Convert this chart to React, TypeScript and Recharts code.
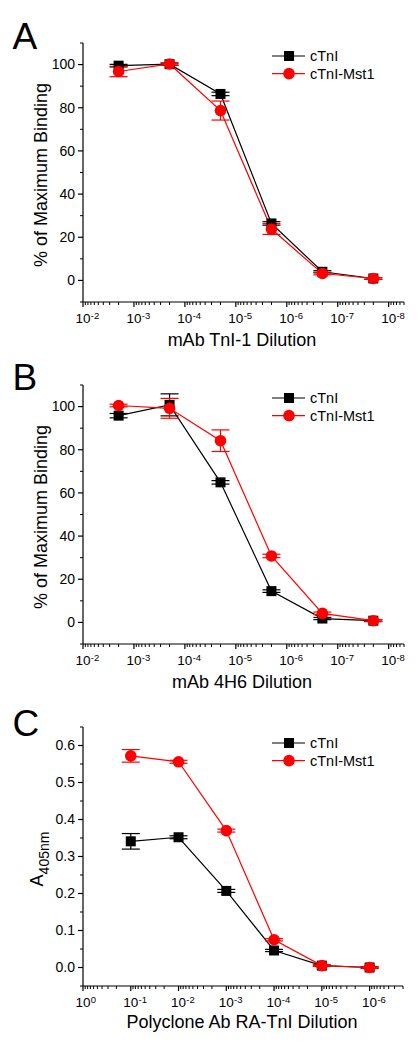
import React from "react";
import { LineChart, Line, XAxis, YAxis, ErrorBar, Legend } from "recharts";

const FONT = '"Liberation Sans", Arial, Helvetica, sans-serif';
const RED = "#ff0000";
const BLACK = "#000000";

// dilutions (x): 1:500 ... for the two mAbs, 1:10 ... for the polyclone
const mAbDilutions = [2e-3, 2e-4, 2e-5, 2e-6, 2e-7, 2e-8];
const polyDilutions = [1e-1, 1e-2, 1e-3, 1e-4, 1e-5, 1e-6];

// A - mAb TnI-1
const tni1Ctni = [99.5, 100.2, 86.4, 26.4, 4.0, 0.9];
const tni1CtniErr = [0.6, 0.5, 0.8, 0.8, 0.5, 0.4];
const tni1Mst = [96.8, 100.3, 78.7, 23.8, 3.2, 0.9];
const tni1MstErr = [2.4, 0.5, 4.4, 2.5, 0.6, 0.4];

// B - mAb 4H6
const h6Ctni = [95.8, 100.8, 64.9, 14.5, 1.8, 0.8];
const h6CtniErr = [1.0, 5.1, 0.8, 0.6, 0.5, 0.4];
const h6Mst = [100.5, 99.2, 84.2, 30.8, 4.2, 0.8];
const h6MstErr = [0.6, 4.6, 5.0, 0.8, 0.6, 0.4];

// C - polyclone Ab RA-TnI (A405nm)
const polyCtni = [0.341, 0.352, 0.207, 0.046, 0.005, 0.0];
const polyCtniErr = [0.021, 0.004, 0.004, 0.003, 0.002, 0.002];
const polyMst = [0.572, 0.556, 0.37, 0.075, 0.005, 0.0];
const polyMstErr = [0.017, 0.004, 0.004, 0.003, 0.002, 0.002];

const pctMajor = [0, 20, 40, 60, 80, 100];
const pctMinor = [-10, 10, 30, 50, 70, 90, 110];
const absMajor = [0, 0.1, 0.2, 0.3, 0.4, 0.5, 0.6];
const absMinor = [-0.05, 0.05, 0.15, 0.25, 0.35, 0.45, 0.55, 0.65];

const buildRows = (x: number[], a: number[], aErr: number[], b: number[], bErr: number[]) =>
  x.map((d, i) => ({ d, ctni: a[i], ctniErr: aErr[i], mst: b[i], mstErr: bErr[i] }));

// decade + 2..9 minor ticks of a log axis, kept inside [lo, 10^hiExp]
const logTicks = (hiExp: number, loExp: number, lo: number) => {
  const t: number[] = [];
  for (let k = hiExp; k >= loExp; k--) {
    for (let n = 1; n <= 9; n++) {
      const v = n * Math.pow(10, k);
      if (v >= lo * (1 - 1e-9) && v <= Math.pow(10, hiExp) * (1 + 1e-9)) t.push(v);
    }
  }
  return t;
};

const XTick = (props: any) => {
  const { x, y, payload } = props;
  const e = Math.log10(payload.value);
  const major = Math.abs(e - Math.round(e)) < 1e-6;
  if (!major) return <line x1={x} x2={x} y1={y} y2={y + 3} stroke={BLACK} strokeWidth={1} />;
  return (
    <g>
      <line x1={x} x2={x} y1={y} y2={y + 5} stroke={BLACK} strokeWidth={1.2} />
      <text x={x} y={y + 21} textAnchor="middle" fontSize={13.5} fontFamily={FONT} fill={BLACK}>
        10
      </text>
      <text x={x + 7.8} y={y + 16.5} fontSize={9.5} fontFamily={FONT} fill={BLACK}>
        {String(Math.round(e))}
      </text>
    </g>
  );
};

const makeYTick = (major: number[], fmt: (v: number) => string) => (props: any) => {
  const { x, y, payload } = props;
  const v = payload.value;
  if (!major.includes(v)) return <line x1={x - 3} x2={x} y1={y} y2={y} stroke={BLACK} strokeWidth={1} />;
  return (
    <g>
      <line x1={x - 5} x2={x} y1={y} y2={y} stroke={BLACK} strokeWidth={1.2} />
      <text x={x - 8} y={y + 4.9} textAnchor="end" fontSize={14} fontFamily={FONT} fill={BLACK}>
        {fmt(v)}
      </text>
    </g>
  );
};

const squareDot = (p: any) => (
  <rect key={`sq-${p.index}`} x={p.cx - 5} y={p.cy - 5} width={10} height={10} fill={BLACK} />
);
const circleDot = (p: any) => <circle key={`ci-${p.index}`} cx={p.cx} cy={p.cy} r={5.8} fill={RED} />;

const LegendBox = ({ payload }: any) => (
  <svg width={150} height={40}>
    {(payload || []).map((p: any, i: number) => {
      const cy = 9 + i * 17.6;
      return (
        <g key={p.value}>
          <line x1={4} x2={37} y1={cy} y2={cy} stroke={p.color} strokeWidth={1.2} />
          {i === 0 ? (
            <rect x={16} y={cy - 5} width={10} height={10} fill={p.color} />
          ) : (
            <circle cx={21} cy={cy} r={5.8} fill={p.color} />
          )}
          <text x={42} y={cy + 5.2} fontSize={14.5} fontFamily={FONT} fill={BLACK}>
            {p.value}
          </text>
        </g>
      );
    })}
  </svg>
);

interface PanelProps {
  top: number;
  height: number;
  rows: any[];
  letter: string;
  letterY: number;
  xTitle: string;
  xTitleGap: number;
  yTitle: React.ReactNode;
  yTitleX: number;
  xDomain: [number, number];
  xTicks: number[];
  yDomain: [number, number];
  yMajor: number[];
  yMinor: number[];
  yFmt: (v: number) => string;
  legendTop: number;
  right: number;
}

function Panel(p: PanelProps) {
  const plotBottom = 301;
  return (
    <div style={{ position: "absolute", left: 0, top: p.top }}>
      <LineChart
        width={420}
        height={p.height}
        data={p.rows}
        margin={{ top: 42, right: p.right, bottom: p.height - plotBottom - 30, left: 43 }}
      >
        <XAxis
          dataKey="d"
          type="number"
          scale="log"
          domain={p.xDomain}
          reversed
          allowDataOverflow
          ticks={p.xTicks}
          interval={0}
          height={30}
          tickSize={0}
          tickMargin={0}
          tickLine={false}
          tick={XTick}
          axisLine={{ stroke: BLACK, strokeWidth: 1.2 }}
        />
        <YAxis
          type="number"
          domain={p.yDomain}
          allowDataOverflow
          ticks={[...p.yMinor, ...p.yMajor].sort((a, b) => a - b)}
          interval={0}
          width={40}
          tickSize={0}
          tickMargin={0}
          tickLine={false}
          tick={makeYTick(p.yMajor, p.yFmt)}
          axisLine={{ stroke: BLACK, strokeWidth: 1.2 }}
        />
        <Legend
          layout="vertical"
          align="center"
          verticalAlign="middle"
          content={LegendBox}
          wrapperStyle={{ left: 268, top: p.legendTop, width: 150, height: 40 }}
        />
        <Line
          name="cTnI"
          dataKey="ctni"
          type="linear"
          stroke={BLACK}
          strokeWidth={1.2}
          dot={squareDot}
          activeDot={false}
          isAnimationActive={false}
        >
          <ErrorBar dataKey="ctniErr" direction="y" width={9} stroke={BLACK} strokeWidth={1.2} />
        </Line>
        <Line
          name="cTnI-Mst1"
          dataKey="mst"
          type="linear"
          stroke={RED}
          strokeWidth={1.2}
          dot={circleDot}
          activeDot={false}
          isAnimationActive={false}
        >
          <ErrorBar dataKey="mstErr" direction="y" width={9} stroke={RED} strokeWidth={1.2} />
        </Line>
        <text x={12.5} y={p.letterY} fontSize={37} fontFamily={FONT} fill={BLACK}>
          {p.letter}
        </text>
        <text
          x={242}
          y={plotBottom + p.xTitleGap}
          textAnchor="middle"
          fontSize={18}
          fontFamily={FONT}
          fill={BLACK}
        >
          {p.xTitle}
        </text>
        <text
          transform={`translate(${p.yTitleX}, 174) rotate(-90)`}
          textAnchor="middle"
          fontSize={18}
          fontFamily={FONT}
          fill={BLACK}
        >
          {p.yTitle}
        </text>
      </LineChart>
    </div>
  );
}

export default function App() {
  const mAbTicks = logTicks(-2, -9, 5e-9);
  const polyTicks = logTicks(0, -7, 2e-7);
  return (
    <div style={{ position: "absolute", left: 0, top: 0, width: 420, height: 1048, background: "#fff" }}>
      <Panel
        top={1}
        height={358}
        rows={buildRows(mAbDilutions, tni1Ctni, tni1CtniErr, tni1Mst, tni1MstErr)}
        letter="A"
        letterY={48}
        xTitle="mAb TnI-1 Dilution"
        xTitleGap={44}
        yTitle="% of Maximum Binding"
        yTitleX={46.5}
        xDomain={[5e-9, 1e-2]}
        xTicks={mAbTicks}
        yDomain={[-10, 110]}
        yMajor={pctMajor}
        yMinor={pctMinor}
        yFmt={(v) => String(v)}
        legendTop={46}
        right={16}
      />
      <Panel
        top={343}
        height={358}
        rows={buildRows(mAbDilutions, h6Ctni, h6CtniErr, h6Mst, h6MstErr)}
        letter="B"
        letterY={47}
        xTitle="mAb 4H6 Dilution"
        xTitleGap={44}
        yTitle="% of Maximum Binding"
        yTitleX={46.5}
        xDomain={[5e-9, 1e-2]}
        xTicks={mAbTicks}
        yDomain={[-10, 110]}
        yMajor={pctMajor}
        yMinor={pctMinor}
        yFmt={(v) => String(v)}
        legendTop={46}
        right={16}
      />
      <Panel
        top={685}
        height={363}
        rows={buildRows(polyDilutions, polyCtni, polyCtniErr, polyMst, polyMstErr)}
        letter="C"
        letterY={51}
        xTitle="Polyclone Ab RA-TnI Dilution"
        xTitleGap={42}
        yTitle={
          <>
            A
            <tspan fontSize={14} dy={6}>
              405nm
            </tspan>
          </>
        }
        yTitleX={43.3}
        xDomain={[2e-7, 1]}
        xTicks={polyTicks}
        yDomain={[-0.05, 0.65]}
        yMajor={absMajor}
        yMinor={absMinor}
        yFmt={(v) => v.toFixed(1)}
        legendTop={49}
        right={17}
      />
    </div>
  );
}
